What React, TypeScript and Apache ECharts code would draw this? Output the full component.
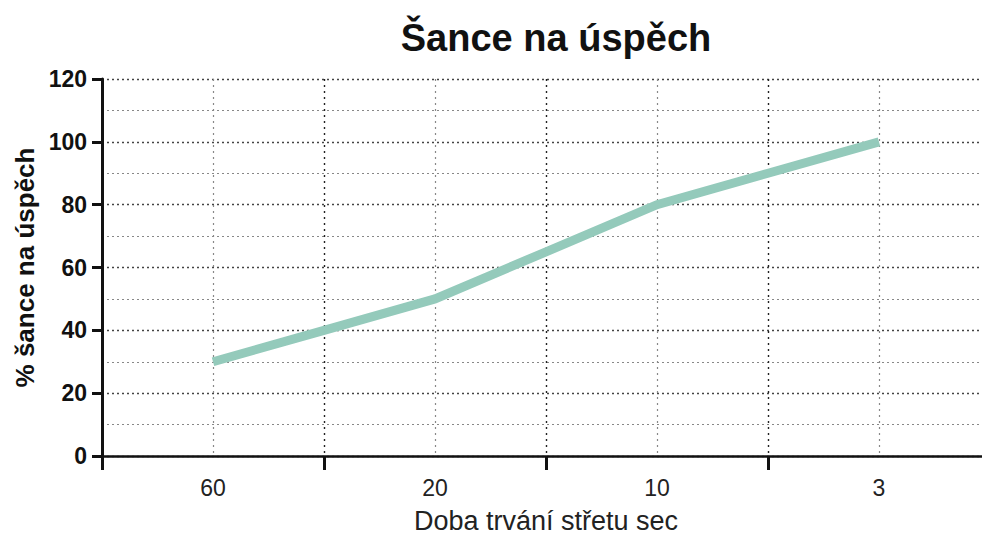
import React, { useEffect, useRef } from "react";
import * as echarts from "echarts";

const categories = ["60", "", "20", "", "10", "", "3"];
const successValues = [30, 40, 50, 65, 80, 90, 100];
const yTicks = [0, 20, 40, 60, 80, 100, 120];

const FONT = "Liberation Sans, Arial, sans-serif";

export default function App() {
  const ref = useRef<HTMLDivElement>(null);
  useEffect(() => {
    if (!ref.current) return;
    const chart = echarts.init(ref.current, undefined, { renderer: "svg" });
    const data = successValues.map((v, i) => [i + 1, v]);
    const labelPos = categories
      .map((c, i) => (c ? i + 1 : -1))
      .filter((v) => v >= 0);
    chart.setOption({
      animation: false,
      backgroundColor: "#ffffff",
      title: {
        text: "Šance na úspěch",
        left: 551,
        textAlign: "center",
        top: 14,
        textStyle: {
          fontFamily: FONT,
          fontWeight: "bold",
          fontSize: 38,
          color: "#111",
        },
      },
      grid: { left: 102, right: 0, top: 79, bottom: 81 },
      xAxis: {
        type: "value",
        min: 0,
        max: 8,
        interval: 2,
        name: "Doba trvání střetu sec",
        nameLocation: "middle",
        nameGap: 51,
        nameTextStyle: {
          fontFamily: FONT,
          fontSize: 27,
          color: "#222",
        },
        axisLine: { show: true, onZero: false, lineStyle: { color: "#111", width: 2.5 } },
        axisTick: {
          show: true,
          length: 14,
          lineStyle: { color: "#111", width: 3 },
        },
        axisLabel: {
          customValues: labelPos,
          margin: 20,
          fontFamily: FONT,
          fontSize: 23,
          color: "#222",
          formatter: (v: number) => categories[Math.round(v) - 1] ?? "",
        },
        splitLine: {
          show: true,
          lineStyle: { type: [2, 4], width: 1.4, color: "#222" },
        },
        minorTick: { show: false, splitNumber: 2 },
        minorSplitLine: {
          show: true,
          lineStyle: { type: [2, 4], width: 1.2, color: "#888" },
        },
      },
      yAxis: {
        type: "value",
        min: 0,
        max: 120,
        interval: 20,
        name: "% šance na úspěch",
        nameLocation: "middle",
        nameGap: 63,
        nameRotate: 90,
        nameTextStyle: {
          fontFamily: FONT,
          fontWeight: "bold",
          fontSize: 26,
          color: "#111",
        },
        axisLine: { show: true, lineStyle: { color: "#111", width: 3 } },
        axisTick: { show: true, length: 10, lineStyle: { color: "#111", width: 3 } },
        axisLabel: {
          margin: 15,
          fontFamily: FONT,
          fontWeight: "bold",
          fontSize: 23,
          color: "#111",
          formatter: (v: number) => (yTicks.includes(v) ? String(v) : ""),
        },
        splitLine: {
          show: true,
          lineStyle: { type: [2, 3], color: "#444", width: 1.3 },
        },
        minorTick: { show: false, splitNumber: 2 },
        minorSplitLine: {
          show: true,
          lineStyle: { type: [2, 3], color: "#888", width: 1.2 },
        },
      },
      series: [
        {
          type: "line",
          data,
          symbol: "none",
          lineStyle: { color: "#94cabb", width: 9, cap: "butt", join: "miter" },
          z: 5,
        },
      ],
    });
    return () => chart.dispose();
  }, []);
  return (
    <div style={{ width: 982, height: 539, overflow: "hidden", position: "absolute", left: 0, top: 0 }}>
      <div ref={ref} style={{ width: 990, height: 539 }} />
    </div>
  );
}
